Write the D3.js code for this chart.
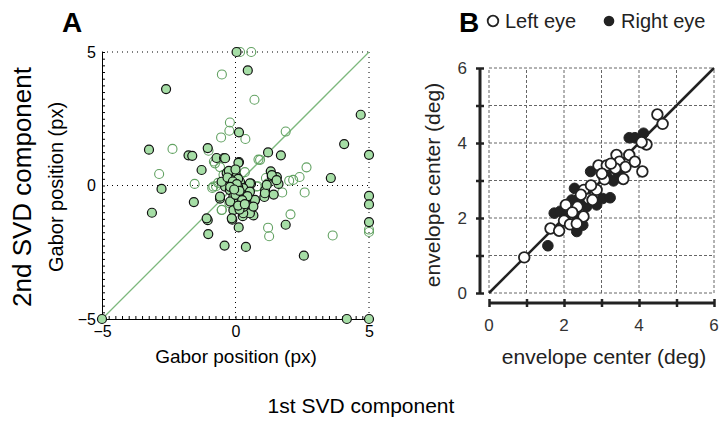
<!DOCTYPE html>
<html><head><meta charset="utf-8">
<script src="https://cdn.jsdelivr.net/npm/d3@7"></script>
<style>body{margin:0;background:#fff}svg{display:block;font-family:"Liberation Sans",Arial,sans-serif}</style>
</head><body>
<svg id="c" width="719" height="421"></svg>
<script>
// Panel A: Gabor position (px) — filled (dark outline) and open (green outline)
const aFilled = [
[0.04,5.0],[0.46,4.31],[-2.6,3.61],[4.69,2.65],[0.13,1.99],[-3.24,1.34],[-1.04,1.40],[-1.76,1.13],[-1.62,1.11],
[-0.71,1.03],[-0.43,1.03],[1.22,1.24],[1.70,1.13],[4.07,1.55],[5.0,1.15],[0.13,0.88],[-1.27,0.58],[1.32,0.53],
[1.36,0.34],[1.55,0.31],[1.61,0.06],[3.57,0.28],[-2.77,-0.13],[1.43,-0.34],[1.11,-0.18],[1.08,-0.43],[0.71,-0.59],
[0.58,0.07],[-1.56,-0.62],[-0.58,-0.49],[-3.13,-1.02],[5.0,-0.39],[5.0,-0.71],[5.0,-1.37],[-1.04,-1.30],[-0.12,-1.28],
[0.12,-1.57],[1.88,-1.47],[-1.02,-1.82],[-0.41,-2.25],[0.39,-2.30],[2.56,-2.63],[0.67,-1.12],[0.42,-1.03],[0.27,-1.15],
[0.54,-1.04],[-5,-5],[4.17,-5],[5,-5],
[-0.39,1.02],[0.11,0.85],[-0.33,0.46],[-0.14,0.39],[0.04,0.33],[-0.27,0.14],[-0.08,0.08],[0.17,0.14],[0.54,0.08],
[-0.39,-0.04],[-0.21,-0.17],[0.04,-0.17],[0.29,-0.1],[0.54,-0.23],[-0.08,-0.42],[0.17,-0.48],[0.36,-0.54],[0.04,-0.67],
[0.23,-0.67],[0.73,-0.54],[-0.08,-0.92],[0.67,-0.79],[0.29,-1.04],[-0.58,-0.42],[1.1,-0.29],[1.17,0.02],[1.36,0.39],
[1.54,0.2],[-0.52,0.14],[-1.08,-1.23],[-0.14,-1.23],[-0.25,0.55],[0.0,0.6],[-0.15,0.2],[0.1,-0.05],[0.2,-0.3],
[-0.3,0.3],[0.1,0.25],[0.3,-0.8],[0.15,-0.9],[-0.2,-0.6],[0.45,-0.4],
[-0.1,0.15],[0.05,0.05],[-0.2,-0.05],[0.0,-0.35],[0.15,-0.2],[0.25,-0.55],[0.1,-0.75],[0.35,-0.7],[-0.05,-0.15]
];
const aOpen = [
[0.17,5.0],[0.59,5.0],[-0.51,4.16],[0.71,3.21],[-0.21,2.36],[-0.23,2.05],[-0.54,1.80],[0.37,1.74],[1.88,2.02],
[-2.36,1.37],[-1.01,1.30],[0.86,0.97],[2.66,0.68],[2.40,0.32],[2.01,0.18],[2.16,0.21],[2.59,-0.26],[1.75,-0.26],
[1.14,0.28],[1.2,0.07],[-2.86,0.43],[-1.53,0.06],[-0.87,-0.09],[-0.73,-0.03],[-0.81,0.9],[-0.58,0.69],[-0.51,-0.91],
[2.06,-1.08],[1.22,-1.58],[1.26,-1.90],[3.64,-1.87],[5.0,-1.65],[5.0,-1.74],[0.83,-0.03],[-0.23,-0.66],
[-0.77,0.83],[-0.83,-0.04],[-0.65,0.1],[-0.52,-0.92],[0.79,-0.04],[0.92,0.96],[0.6,-0.75],[-0.45,0.4],[0.35,0.5]
];
const aTicks = [-5, 0, 5];

// Panel B: envelope center (deg)
const bLeft = [
[0.94,0.95],[1.64,1.72],[1.87,1.66],[2.05,2.35],[2.0,1.93],[2.16,1.83],[2.36,2.30],[2.52,2.04],[2.34,1.85],
[2.53,2.75],[2.66,2.51],[2.76,2.48],[2.87,2.75],[3.08,3.03],[2.92,3.40],[3.14,3.40],[3.40,3.68],[3.48,3.50],
[3.58,3.04],[3.64,3.36],[3.74,3.68],[3.89,3.50],[4.09,3.24],[4.20,3.96],[4.07,4.02],[4.49,4.76],[4.63,4.51],
[3.37,3.32],[3.01,3.18],[3.25,3.45],[2.72,2.87],[2.45,2.62],[2.22,2.15]
];
const bRight = [
[1.57,1.26],[1.74,2.13],[2.28,2.79],[2.21,2.48],[2.32,2.08],[2.50,1.81],[2.34,1.64],[1.90,2.18],[2.60,2.30],
[2.71,3.24],[2.87,2.35],[3.03,2.52],[3.23,2.54],[3.32,2.99],[3.15,3.10],[3.74,4.14],[3.89,4.14],[4.12,4.26],
[3.45,3.20],[2.05,2.05],[2.45,2.40]
];
const bTicks = [0, 1, 2, 3, 4, 5, 6];
const bLabels = [0, 2, 4, 6];

const svg = d3.select("#c");

// ---------- Panel A ----------
const ax = d3.scaleLinear().domain([-5,5]).range([102,369]);
const ay = d3.scaleLinear().domain([-5,5]).range([319,52]);
const A = svg.append("g");
const dot = "1,4";
A.append("line").attr("x1",ax(-5)).attr("x2",ax(5)).attr("y1",ay(5)).attr("y2",ay(5)).attr("stroke","#000").attr("stroke-dasharray",dot);
A.append("line").attr("x1",ax(5)).attr("x2",ax(5)).attr("y1",ay(5)).attr("y2",ay(-5)).attr("stroke","#000").attr("stroke-dasharray",dot);
A.append("line").attr("x1",ax(-5)).attr("x2",ax(5)).attr("y1",ay(0)).attr("y2",ay(0)).attr("stroke","#000").attr("stroke-dasharray",dot);
A.append("line").attr("x1",ax(0)).attr("x2",ax(0)).attr("y1",ay(5)).attr("y2",ay(-5)).attr("stroke","#000").attr("stroke-dasharray",dot);
const minor = d3.range(-5,5.001,0.25);
A.append("g").attr("transform",`translate(0,${ay(-5)})`)
  .call(d3.axisBottom(ax).tickValues(minor).tickSize(-3).tickFormat(""))
  .call(g=>g.selectAll("line,path").attr("stroke","#000"));
A.append("g").attr("transform",`translate(${ax(-5)},0)`)
  .call(d3.axisLeft(ay).tickValues(minor).tickSize(-3).tickFormat(""))
  .call(g=>g.selectAll("line,path").attr("stroke","#000"));
A.append("g").attr("transform",`translate(0,${ay(-5)})`)
  .call(d3.axisBottom(ax).tickValues(aTicks).tickSize(0).tickPadding(7).tickFormat(d=>d<0?"\u2212"+(-d):d))
  .call(g=>{g.select(".domain").remove();g.selectAll("text").attr("font-size",16).attr("fill","#000").attr("font-family","Liberation Sans, Arial");});
A.append("g").attr("transform",`translate(${ax(-5)},0)`)
  .call(d3.axisLeft(ay).tickValues(aTicks).tickSize(0).tickPadding(6).tickFormat(d=>d<0?"\u2212"+(-d):d))
  .call(g=>{g.select(".domain").remove();g.selectAll("text").attr("font-size",16).attr("fill","#000").attr("font-family","Liberation Sans, Arial");});
A.append("line").attr("x1",ax(-5)).attr("y1",ay(-5)).attr("x2",ax(5)).attr("y2",ay(5)).attr("stroke","#7db87d").attr("stroke-width",1.3);
A.append("g").selectAll("circle").data(aOpen).join("circle")
  .attr("cx",d=>ax(d[0])).attr("cy",d=>ay(d[1])).attr("r",4.5)
  .attr("fill","none").attr("stroke","#62a262").attr("stroke-width",1.1);
A.append("g").selectAll("circle").data(aFilled).join("circle")
  .attr("cx",d=>ax(d[0])).attr("cy",d=>ay(d[1])).attr("r",4.5)
  .attr("fill","#a6dea6").attr("stroke","#111").attr("stroke-width",1.2);

// ---------- Panel B ----------
const bx = d3.scaleLinear().domain([0,6]).range([489,714]);
const by = d3.scaleLinear().domain([0,6]).range([293,68]);
const B = svg.append("g");
B.append("g").selectAll("line").data(bTicks).join("line")
  .attr("x1",d=>bx(d)).attr("x2",d=>bx(d)).attr("y1",by(0)).attr("y2",by(6))
  .attr("stroke","#666").attr("stroke-dasharray","3,2").attr("stroke-width",1);
B.append("g").selectAll("line").data(bTicks).join("line")
  .attr("y1",d=>by(d)).attr("y2",d=>by(d)).attr("x1",bx(0)).attr("x2",bx(6))
  .attr("stroke","#666").attr("stroke-dasharray","3,2").attr("stroke-width",1);
const yA = B.append("g").attr("transform","translate(480,0)")
  .call(d3.axisLeft(by).tickValues(bTicks).tickSize(4).tickFormat(""));
yA.select(".domain").attr("stroke","#222").attr("stroke-width",3).attr("d",`M0,${by(6)}V${by(0)}`);
yA.selectAll(".tick line").attr("stroke","#222").attr("stroke-width",2.5).attr("x1",4).attr("x2",-4);
const xA = B.append("g").attr("transform","translate(0,303)")
  .call(d3.axisBottom(bx).tickValues(bTicks).tickSize(4).tickFormat(""));
xA.select(".domain").attr("stroke","#222").attr("stroke-width",3).attr("d",`M${bx(0)},0H${bx(6)}`);
xA.selectAll(".tick line").attr("stroke","#222").attr("stroke-width",2.5).attr("y1",-4).attr("y2",4);
B.append("g").selectAll("text").data(bLabels).join("text")
  .attr("x",467).attr("y",d=>by(d)+6).attr("text-anchor","end").attr("font-size",17).attr("fill","#333").text(d=>d);
B.append("g").selectAll("text").data(bLabels).join("text")
  .attr("x",d=>bx(d)).attr("y",331).attr("text-anchor","middle").attr("font-size",17).attr("fill","#333").text(d=>d);
B.append("line").attr("x1",bx(0)).attr("y1",by(0)).attr("x2",bx(6)).attr("y2",by(6)).attr("stroke","#222").attr("stroke-width",2.5);
B.append("g").selectAll("circle").data(bRight).join("circle")
  .attr("cx",d=>bx(d[0])).attr("cy",d=>by(d[1])).attr("r",5.3).attr("fill","#222").attr("stroke","#222").attr("stroke-width",1);
B.append("g").selectAll("circle").data(bLeft).join("circle")
  .attr("cx",d=>bx(d[0])).attr("cy",d=>by(d[1])).attr("r",5.3).attr("fill","#fff").attr("stroke","#222").attr("stroke-width",1.8);
// legend
B.append("circle").attr("cx",493).attr("cy",21).attr("r",5.3).attr("fill","#fff").attr("stroke","#222").attr("stroke-width",1.8);
B.append("text").attr("x",505).attr("y",28).attr("font-size",20).attr("fill","#222").text("Left eye");
B.append("circle").attr("cx",609).attr("cy",21).attr("r",5.3).attr("fill","#222");
B.append("text").attr("x",621).attr("y",28).attr("font-size",20).attr("fill","#222").text("Right eye");

// ---------- labels ----------
svg.append("text").attr("x",72).attr("y",32).attr("text-anchor","middle").attr("font-size",28).attr("font-weight","bold").text("A");
svg.append("text").attr("x",469).attr("y",32).attr("text-anchor","middle").attr("font-size",28).attr("font-weight","bold").text("B");
svg.append("text").attr("transform","translate(31,187) rotate(-90)").attr("text-anchor","middle").attr("font-size",26).text("2nd SVD component");
svg.append("text").attr("transform","translate(63,187) rotate(-90)").attr("text-anchor","middle").attr("font-size",20).text("Gabor position (px)");
svg.append("text").attr("x",236).attr("y",363).attr("text-anchor","middle").attr("font-size",19).text("Gabor position (px)");
svg.append("text").attr("transform","translate(440,185) rotate(-90)").attr("text-anchor","middle").attr("font-size",21).attr("fill","#222").text("envelope center (deg)");
svg.append("text").attr("x",604).attr("y",364).attr("text-anchor","middle").attr("font-size",21).attr("fill","#222").text("envelope center (deg)");
svg.append("text").attr("x",361).attr("y",413).attr("text-anchor","middle").attr("font-size",21).text("1st SVD component");
</script>
</body></html>
